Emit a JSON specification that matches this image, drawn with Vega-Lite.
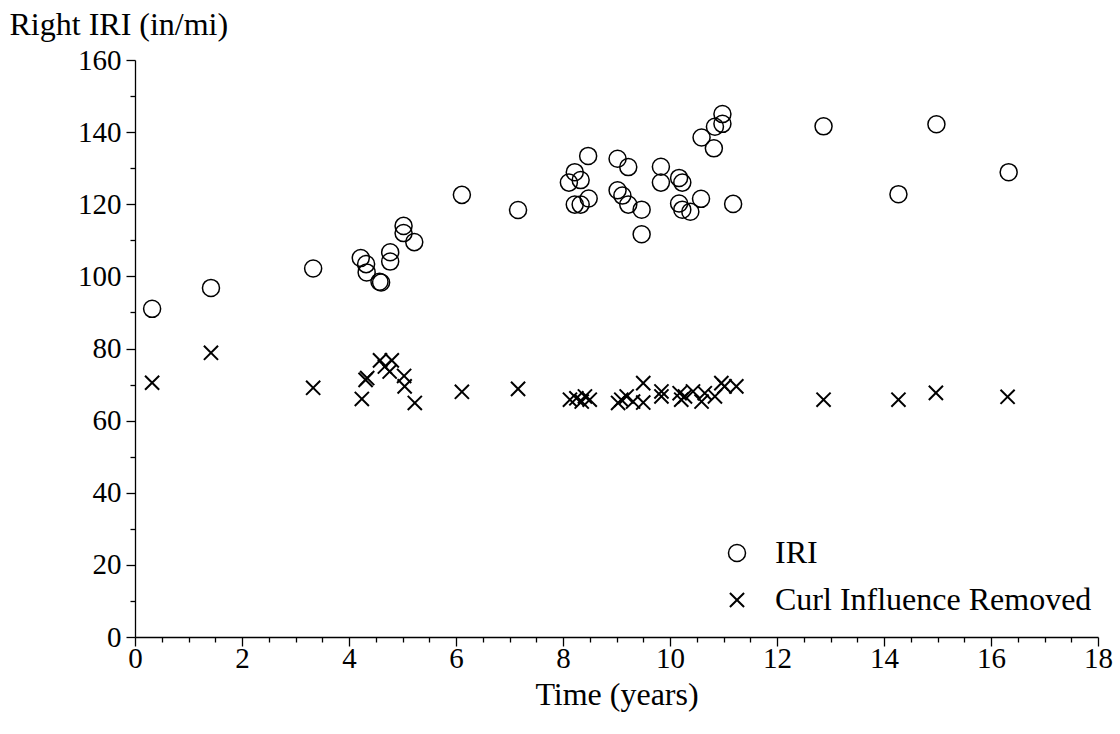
{
  "$schema": "https://vega.github.io/schema/vega-lite/v6.json",
  "width": 963,
  "height": 577,
  "autosize": {"type": "none"},
  "padding": {"left": 135, "top": 60, "right": 22, "bottom": 97},
  "background": "white",
  "config": {
    "font": "Liberation Serif",
    "view": {"stroke": null},
    "axis": {
      "labelFont": "Liberation Serif",
      "titleFont": "Liberation Serif",
      "labelFontSize": 29,
      "titleFontSize": 32,
      "labelColor": "black",
      "titleColor": "black",
      "domainColor": "black",
      "tickColor": "black",
      "titleFontWeight": "normal",
      "grid": false,
      "labelOverlap": false,
      "labelBound": false,
      "labelFlush": false
    }
  },
  "data": {
    "values": [
      {"s": "IRI", "t": 0.32, "v": 91.0},
      {"s": "IRI", "t": 1.42, "v": 96.8},
      {"s": "IRI", "t": 3.33, "v": 102.2},
      {"s": "IRI", "t": 4.22, "v": 105.1},
      {"s": "IRI", "t": 4.32, "v": 103.4},
      {"s": "IRI", "t": 4.33, "v": 101.1},
      {"s": "IRI", "t": 4.57, "v": 98.5},
      {"s": "IRI", "t": 4.6, "v": 98.3},
      {"s": "IRI", "t": 4.77, "v": 106.7},
      {"s": "IRI", "t": 4.77, "v": 104.1},
      {"s": "IRI", "t": 5.02, "v": 114.0},
      {"s": "IRI", "t": 5.02, "v": 112.0},
      {"s": "IRI", "t": 5.22, "v": 109.5},
      {"s": "IRI", "t": 6.11, "v": 122.6},
      {"s": "IRI", "t": 7.16, "v": 118.4},
      {"s": "IRI", "t": 8.47, "v": 133.4},
      {"s": "IRI", "t": 8.22, "v": 128.9},
      {"s": "IRI", "t": 8.11, "v": 126.0},
      {"s": "IRI", "t": 8.33, "v": 126.7},
      {"s": "IRI", "t": 8.22, "v": 119.9},
      {"s": "IRI", "t": 8.33, "v": 119.9},
      {"s": "IRI", "t": 8.48, "v": 121.6},
      {"s": "IRI", "t": 9.02, "v": 132.6},
      {"s": "IRI", "t": 9.22, "v": 130.3},
      {"s": "IRI", "t": 9.02, "v": 123.9},
      {"s": "IRI", "t": 9.11, "v": 122.4},
      {"s": "IRI", "t": 9.22, "v": 119.9},
      {"s": "IRI", "t": 9.47, "v": 118.5},
      {"s": "IRI", "t": 9.47, "v": 111.7},
      {"s": "IRI", "t": 9.83, "v": 130.4},
      {"s": "IRI", "t": 9.83, "v": 126.0},
      {"s": "IRI", "t": 10.17, "v": 127.3},
      {"s": "IRI", "t": 10.23, "v": 126.0},
      {"s": "IRI", "t": 10.17, "v": 120.2},
      {"s": "IRI", "t": 10.23, "v": 118.5},
      {"s": "IRI", "t": 10.38, "v": 117.9},
      {"s": "IRI", "t": 10.58, "v": 121.5},
      {"s": "IRI", "t": 10.59, "v": 138.5},
      {"s": "IRI", "t": 10.82, "v": 135.5},
      {"s": "IRI", "t": 10.84, "v": 141.5},
      {"s": "IRI", "t": 10.98, "v": 142.3},
      {"s": "IRI", "t": 10.98, "v": 145.0},
      {"s": "IRI", "t": 11.18, "v": 120.1},
      {"s": "IRI", "t": 12.87, "v": 141.6},
      {"s": "IRI", "t": 14.27, "v": 122.8},
      {"s": "IRI", "t": 14.98, "v": 142.2},
      {"s": "IRI", "t": 16.33, "v": 128.9},
      {"s": "Curl Influence Removed", "t": 0.32, "v": 70.5},
      {"s": "Curl Influence Removed", "t": 1.42, "v": 78.8},
      {"s": "Curl Influence Removed", "t": 3.33, "v": 69.1},
      {"s": "Curl Influence Removed", "t": 4.24, "v": 66.0},
      {"s": "Curl Influence Removed", "t": 4.34, "v": 71.8},
      {"s": "Curl Influence Removed", "t": 4.31, "v": 71.3},
      {"s": "Curl Influence Removed", "t": 4.58, "v": 76.7},
      {"s": "Curl Influence Removed", "t": 4.8, "v": 76.7},
      {"s": "Curl Influence Removed", "t": 4.67, "v": 75.0},
      {"s": "Curl Influence Removed", "t": 4.76, "v": 73.6},
      {"s": "Curl Influence Removed", "t": 5.03, "v": 72.4},
      {"s": "Curl Influence Removed", "t": 5.04, "v": 69.5},
      {"s": "Curl Influence Removed", "t": 5.23, "v": 64.9},
      {"s": "Curl Influence Removed", "t": 6.11, "v": 68.0},
      {"s": "Curl Influence Removed", "t": 7.16, "v": 68.8},
      {"s": "Curl Influence Removed", "t": 8.13, "v": 65.8},
      {"s": "Curl Influence Removed", "t": 8.25, "v": 66.2},
      {"s": "Curl Influence Removed", "t": 8.35, "v": 65.3},
      {"s": "Curl Influence Removed", "t": 8.41, "v": 66.7},
      {"s": "Curl Influence Removed", "t": 8.5, "v": 65.8},
      {"s": "Curl Influence Removed", "t": 9.03, "v": 64.9},
      {"s": "Curl Influence Removed", "t": 9.09, "v": 65.8},
      {"s": "Curl Influence Removed", "t": 9.19, "v": 66.7},
      {"s": "Curl Influence Removed", "t": 9.31, "v": 65.3},
      {"s": "Curl Influence Removed", "t": 9.5, "v": 70.4},
      {"s": "Curl Influence Removed", "t": 9.5, "v": 65.0},
      {"s": "Curl Influence Removed", "t": 9.84, "v": 68.1},
      {"s": "Curl Influence Removed", "t": 9.84, "v": 66.7},
      {"s": "Curl Influence Removed", "t": 10.18, "v": 67.6},
      {"s": "Curl Influence Removed", "t": 10.21, "v": 65.8},
      {"s": "Curl Influence Removed", "t": 10.28, "v": 66.7},
      {"s": "Curl Influence Removed", "t": 10.43, "v": 68.1},
      {"s": "Curl Influence Removed", "t": 10.59, "v": 65.3},
      {"s": "Curl Influence Removed", "t": 10.65, "v": 67.6},
      {"s": "Curl Influence Removed", "t": 10.84, "v": 66.7},
      {"s": "Curl Influence Removed", "t": 10.96, "v": 70.4},
      {"s": "Curl Influence Removed", "t": 11.02, "v": 69.5},
      {"s": "Curl Influence Removed", "t": 11.24, "v": 69.5},
      {"s": "Curl Influence Removed", "t": 12.87, "v": 65.8},
      {"s": "Curl Influence Removed", "t": 14.27, "v": 65.8},
      {"s": "Curl Influence Removed", "t": 14.97, "v": 67.7},
      {"s": "Curl Influence Removed", "t": 16.31, "v": 66.6}
    ]
  },
  "mark": {"type": "point", "filled": false, "color": "black", "opacity": 1},
  "encoding": {
    "x": {
      "field": "t",
      "type": "quantitative",
      "scale": {"domain": [0, 18], "nice": false, "zero": false},
      "axis": {
        "title": "Time (years)",
        "titlePadding": 6,
        "values": [0, 0.5, 1, 1.5, 2, 2.5, 3, 3.5, 4, 4.5, 5, 5.5, 6, 6.5, 7, 7.5, 8, 8.5, 9, 9.5, 10, 10.5, 11, 11.5, 12, 12.5, 13, 13.5, 14, 14.5, 15, 15.5, 16, 16.5, 17, 17.5, 18],
        "labelExpr": "datum.value % 2 === 0 ? format(datum.value, 'd') : ''",
        "tickSize": {"condition": {"test": "datum.value % 2 === 0", "value": 9}, "value": 5},
        "labelPadding": -2,
        "domainWidth": 1.3,
        "tickWidth": 1.3
      }
    },
    "y": {
      "field": "v",
      "type": "quantitative",
      "scale": {"domain": [0, 160], "nice": false, "zero": true},
      "axis": {
        "title": "Right IRI (in/mi)",
        "titleAngle": 0,
        "titleAlign": "left",
        "titleBaseline": "middle",
        "titleX": -126,
        "titleY": -36,
        "values": [0, 10, 20, 30, 40, 50, 60, 70, 80, 90, 100, 110, 120, 130, 140, 150, 160],
        "labelExpr": "datum.value % 20 === 0 ? format(datum.value, 'd') : ''",
        "tickSize": {"condition": {"test": "datum.value % 20 === 0", "value": 9}, "value": 5},
        "labelPadding": 5,
        "domainWidth": 1.3,
        "tickWidth": 1.3
      }
    },
    "shape": {
      "field": "s",
      "type": "nominal",
      "scale": {"domain": ["IRI", "Curl Influence Removed"], "range": ["circle", "M-1,-1L1,1M1,-1L-1,1"]},
      "legend": {
        "title": null,
        "orient": "none",
        "legendX": 586,
        "legendY": 477,
        "padding": 0,
        "labelFont": "Liberation Serif",
        "labelFontSize": 32,
        "labelColor": "black",
        "labelLimit": 500,
        "labelOffset": 22,
        "rowPadding": 15,
        "symbolStrokeColor": "black",
        "symbolFillColor": "transparent"
      }
    },
    "size": {
      "field": "s",
      "type": "nominal",
      "scale": {"domain": ["IRI", "Curl Influence Removed"], "range": [290, 200]}
    },
    "strokeWidth": {
      "field": "s",
      "type": "nominal",
      "scale": {"domain": ["IRI", "Curl Influence Removed"], "range": [1.5, 2]}
    }
  }
}
